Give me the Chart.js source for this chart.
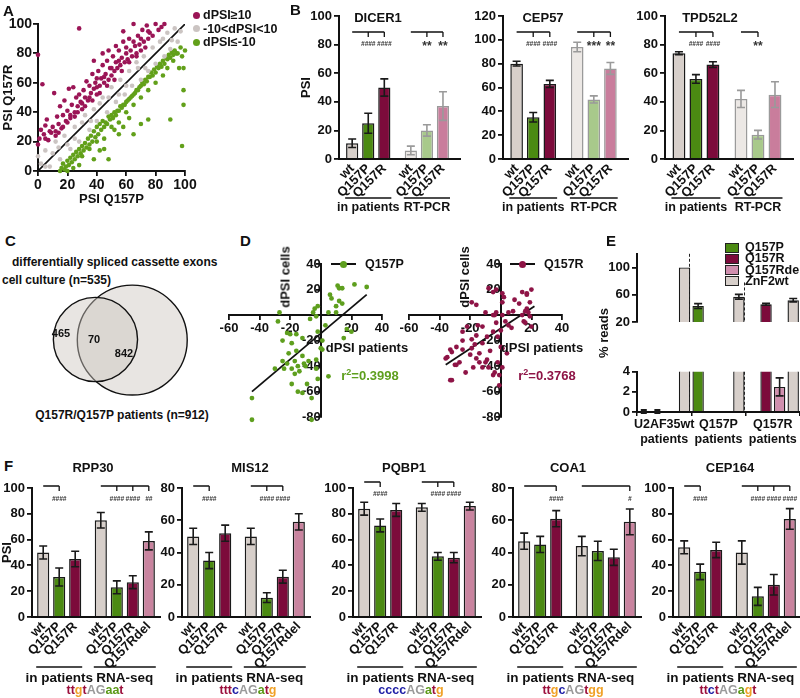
<!DOCTYPE html>
<html>
<head>
<meta charset="utf-8">
<title>U2AF35 Q157 splicing</title>
<script src="https://cdn.jsdelivr.net/npm/chart.js@4.4.1/dist/chart.umd.min.js"></script>
<style>
  body { margin: 0; width: 800px; height: 698px; position: relative; overflow: hidden; background: #fff;
         font-family: "Liberation Sans", Arial, sans-serif; font-weight: bold; color: #111; }
  canvas { position: absolute; }
  .t { position: absolute; white-space: nowrap; line-height: 1; }
</style>
</head>
<body>
<script>
// ---------- data ----------
// A: PSI Q157P (x) vs PSI Q157R (y)
const aUp = [[0,79],[3,59],[0,18],[1,22],[2,28],[4,25],[5,31],[6,35],[7,21],[8,27],[10,30],[11,53],[12,24],[13,37],[14,32],[15,44],[16,29],[17,38],[18,48],[19,34],[20,41],[21,56],[22,36],[23,45],[24,57],[25,40],[26,50],[27,44],[28,97],[28,52],[29,47],[30,42],[31,55],[32,50],[33,61],[34,48],[35,58],[36,53],[37,66],[38,56],[39,60],[40,52],[41,68],[42,58],[43,63],[44,72],[45,60],[46,66],[47,75],[48,62],[49,70],[50,65],[51,78],[52,68],[53,74],[54,70],[55,82],[56,72],[57,77],[58,88],[59,74],[60,80],[61,76],[62,90],[63,82],[64,78],[65,100],[66,85],[67,80],[68,92],[69,86],[70,82],[71,96],[72,88],[73,84],[74,99],[75,90],[76,94],[78,92],[80,100],[82,96],[84,98],[86,100],[5,22],[9,26],[14,26],[20,33],[25,37],[30,46],[35,50],[40,57],[45,64],[50,70],[55,75],[60,84],[65,88],[70,90],[75,95],[62,74],[67,78],[57,68],[52,62],[47,58],[42,53],[37,48],[32,44],[27,40],[22,38],[17,30],[12,27],[48,82],[53,85],[58,95],[44,80],[38,75],[40,63]];
const aMid = [[0,10],[2,5],[5,14],[8,3],[12,20],[15,8],[18,24],[22,15],[25,30],[28,20],[32,38],[35,28],[38,42],[40,34],[44,50],[47,40],[50,57],[53,47],[56,62],[59,52],[62,68],[64,58],[67,74],[70,62],[72,78],[75,68],[78,84],[80,73],[83,88],[86,78],[88,94],[90,83],[93,97],[95,88],[97,95],[30,33],[42,46],[55,52],[68,70],[20,18],[10,12],[85,90],[60,58],[48,50],[36,34],[25,22],[14,16],[5,3],[73,70],[91,89]];
const aDown = [[15,0],[16,2],[17,5],[18,1],[19,3],[20,7],[21,4],[22,9],[23,6],[24,11],[25,8],[26,13],[27,10],[28,15],[29,12],[30,17],[31,14],[32,19],[33,16],[34,22],[35,18],[36,24],[37,20],[38,27],[39,23],[40,30],[41,25],[42,32],[43,28],[44,34],[45,30],[45,15],[46,33],[47,32],[48,8],[48,37],[49,35],[50,38],[51,36],[52,40],[53,38],[54,41],[55,25],[55,41],[56,44],[57,43],[58,45],[59,45],[60,47],[61,48],[62,49],[63,50],[64,51],[65,25],[65,52],[66,53],[67,55],[68,55],[69,57],[70,32],[70,58],[71,60],[72,59],[73,62],[74,61],[75,35],[75,64],[76,64],[77,67],[78,65],[79,69],[80,67],[81,71],[82,70],[83,73],[84,71],[85,75],[86,73],[87,77],[88,76],[89,79],[90,35],[90,77],[91,81],[92,79],[93,82],[94,80],[95,80],[96,70],[97,84],[98,17],[98,78],[99,45],[99,55],[99,70],[100,82],[30,10],[35,15],[40,20],[50,30],[60,40],[70,50],[80,60],[85,65],[75,55],[65,45],[55,33],[45,22],[88,70],[92,75],[62,36],[58,30],[52,28],[42,14],[38,8],[28,4],[24,2],[20,0]];
const aDiag = [[0,0],[100,100]];
const aLegend = ['dPSI≥10', '-10&lt;dPSI&lt;10', 'dPSI≤-10'];

// B: RT-PCR validation
const bLabels = ['wt', 'Q157P', 'Q157R', 'wt', 'Q157P', 'Q157R'];
const bGenes = ['DICER1', 'CEP57', 'TPD52L2'];
const dicer1Psi = [11, 25, 50, 6, 20, 37];
const dicer1Err = [3, 7, 6, 3, 4, 10];
const cep57Psi = [80, 35, 63, 94, 50, 76];
const cep57Err = [2, 4, 3, 4, 3, 5];
const tpd52l2Psi = [74, 56, 66, 42, 17, 45];
const tpd52l2Err = [1, 3, 2, 6, 3, 9];
const dicer1Sig = [{ from: 0, to: 2, marks: [1, 2], texts: ['####', '####'] }, { from: 3, to: 5, marks: [4, 5], texts: ['**', '**'] }];
const cep57Sig = [{ from: 0, to: 2, marks: [1, 2], texts: ['####', '####'] }, { from: 3, to: 5, marks: [4, 5], texts: ['***', '**'] }];
const tpd52l2Sig = [{ from: 0, to: 2, marks: [1, 2], texts: ['####', '####'] }, { from: 3, to: 4, marks: [4], texts: ['**'] }];

// C: Venn counts
const vennCounts = [535, 912];
const vennOnly = ['465', '70', '842'];

// D: dPSI patients (x) vs dPSI cells (y)
const dQ157P = [[22,24],[30,22],[11,23],[14,21],[6,16],[12,11],[14,9],[10,2],[5,2],[-4,5],[-2,7],[-5,2],[-3,-1],[-27,2],[-28,-5],[-22,-14],[-16,-15],[-19,-22],[-12,-18],[-2,-13],[1,-20],[1,-27],[17,-11],[20,-13],[15,-18],[-16,-28],[-12,-32],[-17,-36],[-10,-40],[-15,-40],[-19,-42],[-8,-36],[-3,-35],[-3,-42],[-24,-42],[-25,-36],[-30,-42],[-19,-54],[-15,-60],[-2,-50],[5,-48],[-20,-15],[-25,-20],[-22,-38],[-17,-46],[-45,-65],[-6,-65],[-12,-61],[-9,-54],[0,-26],[12,21],[7,13],[10,7],[-45,-82],[-6,-82],[-14,-44],[-11,-38],[-21,-30],[-7,-3],[3,-8]];
const dQ157PFit = [[-45,-60],[30,16]];
const dQ157R = [[-3,20],[1,17],[1,10],[-19,10],[-16,8],[-5,0],[-3,2],[1,0],[5,2],[8,3],[12,9],[16,3],[17,17],[20,20],[14,18],[15,-5],[19,-1],[3,-5],[-3,-6],[0,-12],[-12,-9],[-16,-16],[-19,-19],[-25,-13],[-17,-23],[-9,-17],[0,-25],[1,-26],[-2,-37],[-5,-47],[-9,-35],[-14,-37],[-16,-34],[-12,-41],[-18,-41],[-20,-31],[-25,-27],[-29,-25],[-33,-27],[-35,-33],[-30,-39],[-33,-51],[-27,-37],[-36,-34],[-32,-29],[-29,-39],[-32,-51],[-25,-20],[-19,-26],[-22,-9],[-15,-8],[-8,21],[-5,18],[-10,2],[-4,0],[-5,-13],[-2,-17],[1,-41],[-4,-45],[-1,-47],[-8,-41],[-10,-37],[-12,-22],[5,-8],[17,16],[19,10],[17,5],[14,0],[18,2],[16,-6],[20,-9],[2,14],[9,12],[-7,-28],[-14,-30],[7,-10],[-23,-45],[4,-30],[-1,-55]];
const dQ157RFit = [[-36,-39],[22,7]];
const dR2 = ['0.3998', '0.3768'];

// E: % reads
const eGroups = [['U2AF35wt', 'patients'], ['Q157P', 'patients'], ['Q157R', 'patients']];
const eSeries = ['Q157P', 'Q157R', 'Q157Rdel', 'ZnF2wt'];
const eQ157P = [0, 43.5, 0];
const eQ157R = [0, null, 46];
const eQ157Rdel = [null, null, 2.5];
const eZnF2wt = [100, 57, 52];
const eQ157PErr = [0, 3.5, null];
const eQ157RErr = [0, null, 1.5];
const eQ157RdelErr = [null, null, 0.9];
const eZnF2wtErr = [null, 3.5, 2.5];

// F: RNA-seq validation
const fLabels = ['wt', 'Q157P', 'Q157R', 'wt', 'Q157P', 'Q157R', 'Q157Rdel'];
const fGenes = ['RPP30', 'MIS12', 'PQBP1', 'COA1', 'CEP164'];
const rpp30Psi = [50, 31, 45, 75, 23, 27, 59];
const rpp30Err = [5, 7, 6, 6, 5, 5, 7];
const mis12Psi = [50, 35, 52, 50, 12, 25, 59];
const mis12Err = [5, 5, 5, 5, 3, 4, 5];
const pqbp1Psi = [84, 71, 83, 85, 47, 46, 86];
const pqbp1Err = [5, 5, 5, 3, 3, 4, 3];
const coa1Psi = [47, 45, 61, 44, 41, 37, 59];
const coa1Err = [5, 5, 5, 6, 6, 5, 8];
const cep164Psi = [54, 35, 52, 50, 16, 25, 76];
const cep164Err = [5, 6, 6, 9, 7, 8, 8];
const rpp30Sig = [{ from: 0, to: 1, marks: [1], texts: ['####'] }, { from: 3, to: 6, marks: [4, 5, 6], texts: ['####', '####', '##'] }];
const mis12Sig = [{ from: 0, to: 1, marks: [1], texts: ['####'] }, { from: 3, to: 5, marks: [4, 5], texts: ['####', '####'] }];
const pqbp1Sig = [{ from: 0, to: 1, marks: [1], texts: ['####'] }, { from: 3, to: 5, marks: [4, 5], texts: ['####', '####'] }];
const coa1Sig = [{ from: 0, to: 2, marks: [2], texts: ['####'] }, { from: 3, to: 6, marks: [6], texts: ['#'] }];
const cep164Sig = [{ from: 0, to: 1, marks: [1], texts: ['####'] }, { from: 3, to: 6, marks: [4, 5, 6], texts: ['####', '####', '####'] }];
const fSeqs = ['ttgtAGaat', 'tttcAGatg', 'ccccAGatg', 'ttgcAGtgg', 'ttctAGagt'];

// ---------- style ----------
const FONT = '"Liberation Sans", Arial, Helvetica, sans-serif';
Chart.defaults.font.family = FONT;
Chart.defaults.font.weight = 'bold';
Chart.defaults.font.size = 12;
Chart.defaults.color = '#111';
Chart.defaults.animation = false;
Chart.defaults.responsive = false;
Chart.defaults.devicePixelRatio = 1;
Chart.defaults.plugins.legend.display = false;
Chart.defaults.plugins.tooltip.enabled = false;

const C_WT = '#d7cfca', C_P = '#4b8a12', C_R = '#7c0b3b', C_DEL = '#c9849f';
const C_WT_L = '#ece8e5', C_P_L = '#a8c98b', C_R_L = '#c97d9c';
const C_EDGE = '#1a1a1a', C_EDGE_L = '#9a9a9a';
const PT_UP = '#9b1556', PT_MID = '#cbc4c2', PT_DOWN = '#62a01a';
const D_GREEN = '#5e9f1e', D_RED = '#8e1446';
const NT = { a: '#5b9a17', c: '#1d1da6', g: '#f0a126', t: '#9b0f3c', A: '#9a9a9a', G: '#9a9a9a' };

const axisGrid = len => ({ display: true, drawOnChartArea: false, drawTicks: true, tickLength: len, color: '#111', lineWidth: 1.8 });
const axisBorder = { display: true, color: '#111', width: 2 };

// ---------- helpers ----------
function addCanvas(left, top, w, h) {
    const c = document.createElement('canvas');
    c.width = w; c.height = h;
    c.style.left = left + 'px'; c.style.top = top + 'px';
    c.style.width = w + 'px'; c.style.height = h + 'px';
    document.body.appendChild(c);
    return c;
}

function txt(html, x, y, size, opt = {}) {
    const d = document.createElement('div');
    d.className = 't';
    d.innerHTML = html;
    d.style.left = x + 'px';
    d.style.top = y + 'px';
    d.style.fontSize = size + 'px';
    if (opt.color) d.style.color = opt.color;
    const ax = opt.align === 'left' ? '0' : '-50%';
    d.style.transform = `translate(${ax},-50%)` + (opt.rotate ? ` rotate(${opt.rotate}deg)` : '');
    document.body.appendChild(d);
    return d;
}

function box(x, y, w, h, css) {
    const d = document.createElement('div');
    d.style.cssText = `position:absolute;left:${x}px;top:${y}px;width:${w}px;height:${h}px;` + css;
    document.body.appendChild(d);
}

// error bars, significance brackets and group underlines
const barExtras = {
    id: 'barExtras',
    afterDatasetsDraw(chart, args, o) {
        const ctx = chart.ctx, ys = chart.scales.y, area = chart.chartArea;
        ctx.save();
        ctx.beginPath();
        ctx.rect(area.left - 10, area.top - 10, area.width + 20, area.height + 15);
        ctx.clip();
        chart.data.datasets.forEach((ds, di) => {
            const errs = o.errors && o.errors[di];
            if (!errs) return;
            const meta = chart.getDatasetMeta(di);
            meta.data.forEach((bar, i) => {
                const e = errs[i];
                if (e === null || e === undefined) return;
                const raw = ds.data[i];
                const v = raw !== null && typeof raw === 'object' ? raw.y : raw;
                if (v === null || v === undefined) return;
                const col = (o.errColors && o.errColors[di] && o.errColors[di][i]) || C_EDGE;
                ctx.strokeStyle = col; ctx.fillStyle = col; ctx.lineWidth = 1.6;
                if (e === 0) {
                    const py = ys.getPixelForValue(v);
                    ctx.fillRect(bar.x - 3, py - 3, 6, 5);
                    return;
                }
                const top = ys.getPixelForValue(v + e), bot = ys.getPixelForValue(v - e);
                const cw = o.capWidth || 4;
                ctx.beginPath();
                ctx.moveTo(bar.x, top); ctx.lineTo(bar.x, bot);
                ctx.moveTo(bar.x - cw, top); ctx.lineTo(bar.x + cw, top);
                ctx.moveTo(bar.x - cw, bot); ctx.lineTo(bar.x + cw, bot);
                ctx.stroke();
            });
        });
        ctx.restore();

        const meta0 = chart.getDatasetMeta(0);
        ctx.save();
        (o.brackets || []).forEach(b => {
            const yb = area.top + o.bracketDy;
            ctx.strokeStyle = '#111'; ctx.lineWidth = 1.3;
            ctx.beginPath();
            ctx.moveTo(meta0.data[b.from].x, yb); ctx.lineTo(meta0.data[b.to].x, yb);
            b.marks.forEach(m => { ctx.moveTo(meta0.data[m].x, yb); ctx.lineTo(meta0.data[m].x, yb + 5); });
            ctx.stroke();
            b.marks.forEach((m, k) => {
                const s = b.texts[k];
                const hash = s[0] === '#';
                ctx.font = hash ? `italic bold 6.5px ${FONT}` : `bold 12px ${FONT}`;
                ctx.fillStyle = '#333'; ctx.textAlign = 'center'; ctx.textBaseline = 'middle';
                ctx.fillText(s, meta0.data[m].x, area.top + o.textDy + (hash ? 0 : 3));
            });
        });
        (o.groups || []).forEach(g => {
            const slot = meta0.data[1].x - meta0.data[0].x;
            const x1 = meta0.data[g.from].x - slot / 2 + 1, x2 = meta0.data[g.to].x + slot / 2 - 1;
            const yl = area.bottom + o.groupLineDy;
            ctx.strokeStyle = '#111'; ctx.lineWidth = 1.3;
            ctx.beginPath(); ctx.moveTo(x1, yl); ctx.lineTo(x2, yl); ctx.stroke();
            ctx.font = `bold ${o.groupFont}px ${FONT}`;
            ctx.fillStyle = '#111'; ctx.textAlign = 'center'; ctx.textBaseline = 'middle';
            ctx.fillText(g.text, (x1 + x2) / 2, area.bottom + o.groupTextDy);
        });
        ctx.restore();
    }
};

// dashed separators for panel E
const eDividers = {
    id: 'eDividers',
    afterDatasetsDraw(chart, args, o) {
        const ctx = chart.ctx, xs = chart.scales.x, ys = chart.scales.y, area = chart.chartArea;
        ctx.save();
        ctx.strokeStyle = '#222'; ctx.lineWidth = 1; ctx.setLineDash([3, 2]);
        (o.lines || []).forEach(l => {
            const px = Math.round((xs.getPixelForValue(l.after) + xs.getPixelForValue(l.after + 1)) / 2) - 1.5;
            const top = l.from != null ? Math.max(area.top, ys.getPixelForValue(l.from)) : area.top;
            ctx.beginPath(); ctx.moveTo(px, top); ctx.lineTo(px, area.bottom); ctx.stroke();
        });
        ctx.restore();
    }
};

function barPanel(p) {
    const padTop = 12, padRight = 4;
    const cv = addCanvas(p.left - p.yW, p.top - padTop, p.right - p.left + p.yW + padRight, p.bottom - p.top + padTop + p.xH);
    new Chart(cv, {
        type: 'bar',
        data: { datasets: [{
            data: p.values.map((v, i) => ({ x: p.pos[i], y: v })),
            backgroundColor: p.fills, borderColor: p.edges, borderWidth: 1.5,
            categoryPercentage: 1, barPercentage: 0.76
        }] },
        options: {
            layout: { padding: { top: padTop, right: padRight, left: 0, bottom: 0 } },
            plugins: { barExtras: {
                errors: [p.errors], errColors: [p.edges], brackets: p.brackets,
                bracketDy: p.bracketDy, textDy: p.textDy, groups: p.groups,
                groupLineDy: p.groupLineDy, groupTextDy: p.groupTextDy, groupFont: p.groupFont
            } },
            scales: {
                x: { type: 'linear', min: p.xMin, max: p.xMax, offset: false,
                     afterBuildTicks: s => { s.ticks = p.pos.map(v => ({ value: v })); },
                     ticks: { callback: (v, i) => p.labels[i], minRotation: 45, maxRotation: 45, autoSkip: false, font: { size: p.tickSize }, padding: 2 },
                     grid: { display: false, drawTicks: false, offset: false }, border: axisBorder,
                     afterFit: s => { s.height = p.xH; } },
                y: { min: 0, max: p.max, ticks: { stepSize: 20, font: { size: p.tickSize }, padding: 2 },
                     grid: axisGrid(5), border: axisBorder,
                     title: { display: !!p.yTitle, text: p.yTitle, font: { size: 13 }, padding: 0 },
                     afterFit: s => { s.width = p.yW; } }
            }
        },
        plugins: [barExtras]
    });
}

// ---------- panel A ----------
const aCanvas = addCanvas(0, 0, 200, 210);
new Chart(aCanvas, {
    type: 'scatter',
    data: { datasets: [
        { data: aMid, backgroundColor: PT_MID, pointRadius: 2.3, borderWidth: 0, clip: false },
        { data: aUp, backgroundColor: PT_UP, pointRadius: 2.3, borderWidth: 0, clip: false },
        { data: aDown, backgroundColor: PT_DOWN, pointRadius: 2.3, borderWidth: 0, clip: false },
        { data: aDiag, showLine: true, borderColor: '#111', borderWidth: 1.6, pointRadius: 0 }
    ] },
    options: {
        layout: { padding: { top: 24, right: 15, left: 0, bottom: 0 } },
        scales: {
            x: { min: 0, max: 100, ticks: { stepSize: 20, font: { size: 14 }, padding: 1 }, grid: axisGrid(5), border: axisBorder,
                 title: { display: true, text: 'PSI Q157P', font: { size: 13 }, padding: { top: 0, bottom: 3 } },
                 afterFit: s => { s.height = 39; } },
            y: { min: 0, max: 100, ticks: { stepSize: 20, font: { size: 14 }, padding: 1 }, grid: axisGrid(5), border: axisBorder,
                 title: { display: true, text: 'PSI Q157R', font: { size: 13 }, padding: 1 },
                 afterFit: s => { s.width = 38; } }
        }
    }
});
txt('A', 3, 10, 15, { align: 'left' });
[PT_UP, PT_MID, PT_DOWN].forEach((c, i) => {
    const y = 15 + i * 13.6;
    box(192.5, y - 3.5, 7, 7, `border-radius:50%;background:${c};`);
    txt(aLegend[i], 203, y, 12.5, { align: 'left' });
});

// ---------- panel B ----------
txt('B', 290, 9, 15, { align: 'left' });
const bPos = [1, 2, 3, 4.65, 5.65, 6.65];
const bFills = [C_WT, C_P, C_R, C_WT_L, C_P_L, C_R_L];
const bEdges = [C_EDGE, C_EDGE, C_EDGE, C_EDGE_L, C_EDGE_L, C_EDGE_L];
const bGroups = [{ from: 0, to: 2, text: 'in patients' }, { from: 3, to: 5, text: 'RT-PCR' }];
[
    { left: 339, right: 460, max: 100, values: dicer1Psi, errors: dicer1Err, brackets: dicer1Sig, yTitle: 'PSI', yW: 40, title: 378 },
    { left: 503, right: 628, max: 120, values: cep57Psi, errors: cep57Err, brackets: cep57Sig, yW: 36, title: 543 },
    { left: 665, right: 793, max: 100, values: tpd52l2Psi, errors: tpd52l2Err, brackets: tpd52l2Sig, yW: 36, title: 710 }
].forEach((p, k) => {
    barPanel(Object.assign(p, {
        top: 16, bottom: 159, xH: 56, pos: bPos, xMin: 0.18, xMax: 7.71, labels: bLabels,
        fills: bFills, edges: bEdges, groups: bGroups, tickSize: 13,
        bracketDy: 16, textDy: 28, groupLineDy: 39, groupTextDy: 49, groupFont: 12.5
    }));
    txt(bGenes[k], p.title, 17, 13);
});

// ---------- panel C ----------
txt('C', 5, 240, 15, { align: 'left' });
txt('differentially spliced cassette exons', 12, 262, 12, { align: 'left' });
txt('cell culture (n=535)', 2, 280, 12, { align: 'left' });
const vennCv = addCanvas(0, 280, 260, 120);
const vennCx = [69, 134], vennCy = [332, 341];
new Chart(vennCv, {
    type: 'bubble',
    data: { datasets: vennCounts.map((n, i) => ({
        data: [{ x: vennCx[i], y: vennCy[i], r: 1.82 * Math.sqrt(n) }],
        backgroundColor: 'rgba(204,197,191,0.45)', borderColor: '#111', borderWidth: 1.4, clip: false
    })) },
    options: {
        layout: { padding: 0 },
        scales: { x: { display: false, min: 0, max: 260 }, y: { display: false, min: 280, max: 400, reverse: true } }
    }
});
txt(vennOnly[0], 61, 333, 11);
txt(vennOnly[1], 94, 339, 11);
txt(vennOnly[2], 124, 353, 11);
txt('Q157R/Q157P patients (n=912)', 122, 415, 12);

// ---------- panel D ----------
txt('D', 240, 240, 15, { align: 'left' });
function dPanel(left, points, fit, color) {
    const cv = addCanvas(left - 12, 255, 175, 171);
    new Chart(cv, {
        type: 'scatter',
        data: { datasets: [
            { data: points, backgroundColor: color, pointRadius: 2.4, borderWidth: 0, clip: false },
            { data: fit, showLine: true, borderColor: '#111', borderWidth: 1.8, pointRadius: 0 }
        ] },
        options: {
            layout: { padding: { left: 12, right: 10, top: 9, bottom: 8 } },
            scales: {
                x: { type: 'linear', min: -60, max: 40, position: { y: 0 },
                     ticks: { stepSize: 20, callback: v => (v === 0 ? '' : v), font: { size: 13 }, padding: 2 },
                     grid: axisGrid(4), border: axisBorder },
                y: { type: 'linear', min: -80, max: 40, position: { x: 0 },
                     ticks: { stepSize: 20, callback: v => (v === 0 ? '' : v), font: { size: 13 }, padding: 1 },
                     grid: axisGrid(4), border: axisBorder }
            }
        }
    });
}
dPanel(229, dQ157P, dQ157PFit, D_GREEN);
dPanel(409, dQ157R, dQ157RFit, D_RED);
[[285, 367, 370, D_GREEN, 331, 'Q157P'], [464, 542, 547, D_RED, 510, 'Q157R']].forEach(([cx, px, rx, col, lx, name], i) => {
    txt('dPSI cells', cx, 277, 13, { rotate: -90 });
    txt('dPSI patients', px, 347, 13);
    txt(`r<sup style="font-size:9px">2</sup>=${dR2[i]}`, rx, 375, 13, { color: col });
    box(lx, 263, 25, 2, 'background:#111;');
    box(lx + 9, 260.5, 7, 7, `border-radius:50%;background:${col};`);
    txt(name, lx + 34, 264, 12.5, { align: 'left' });
});

// ---------- panel E ----------
txt('E', 606, 240, 15, { align: 'left' });
txt('% reads', 603, 333, 13, { rotate: -90 });
const eColors = [C_P, C_R, '#d08fae', C_WT];
const eValues = [eQ157P, eQ157R, eQ157Rdel, eZnF2wt];
const eErrs = [eQ157PErr, eQ157RErr, eQ157RdelErr, eZnF2wtErr];
eSeries.forEach((s, i) => {
    const y = 247 + i * 11.3;
    box(725, y - 4.5, 12, 8, `background:${eColors[i]};border:1px solid #222;`);
    txt(s, 745, y, 12.5, { align: 'left' });
});
function eChart(top, height, yMin, yMax, step, padTop, padBottom, showX, from2) {
    const cv = addCanvas(597, top, 203, height);
    new Chart(cv, {
        type: 'bar',
        data: { labels: eGroups, datasets: eValues.map((vals, i) => ({
            label: eSeries[i], data: vals, backgroundColor: eColors[i], borderColor: C_EDGE, borderWidth: 1.4,
            categoryPercentage: 1, barPercentage: 0.84
        })) },
        options: {
            layout: { padding: { top: padTop, bottom: padBottom, left: 0, right: 0 } },
            plugins: {
                barExtras: { errors: eErrs, capWidth: 4 },
                eDividers: { lines: [{ after: 0, from: null }, { after: 1, from: from2 }] }
            },
            scales: {
                x: { display: showX, offset: true,
                     ticks: { font: { size: 12.5 }, padding: 1, autoSkip: false, maxRotation: 0, minRotation: 0 },
                     grid: { display: true, drawOnChartArea: false, drawTicks: true, tickLength: 4, offset: true, color: '#111', lineWidth: 1.5 },
                     border: axisBorder, afterFit: s => { s.height = 34; } },
                y: { min: yMin, max: yMax, ticks: { stepSize: step, font: { size: 13 }, padding: 2 },
                     afterBuildTicks: s => { s.ticks = s.ticks.filter(t => t.value <= (yMax === 120 ? 100 : yMax)); },
                     grid: axisGrid(5), border: axisBorder, afterFit: s => { s.width = 40; } }
            }
        },
        plugins: [barExtras, eDividers]
    });
}
eChart(244, 120, 20, 120, 20, 6, 8, false, 78);
eChart(362, 84, 0, 4, 1, 6, 0, true, 78);

// ---------- panel F ----------
txt('F', 4, 465, 15, { align: 'left' });
const fPos = [1, 2, 3, 4.6, 5.6, 6.6, 7.6];
const fFills = [C_WT, C_P, C_R, C_WT, C_P, C_R, C_DEL];
const fEdges = fFills.map(() => C_EDGE);
const fGroups = [{ from: 0, to: 2, text: 'in patients' }, { from: 3, to: 6, text: 'RNA-seq' }];
[
    { left: 32, max: 100, values: rpp30Psi, errors: rpp30Err, brackets: rpp30Sig, yTitle: 'PSI', yW: 32, title: 93, bracketDy: -2, textDy: 11 },
    { left: 182, max: 80, values: mis12Psi, errors: mis12Err, brackets: mis12Sig, yW: 36, title: 250, bracketDy: -2, textDy: 11 },
    { left: 353, max: 100, values: pqbp1Psi, errors: pqbp1Err, brackets: pqbp1Sig, yW: 36, title: 404, bracketDy: -6, textDy: 6 },
    { left: 513, max: 80, values: coa1Psi, errors: coa1Err, brackets: coa1Sig, yW: 36, title: 568, bracketDy: -2, textDy: 11 },
    { left: 673, max: 100, values: cep164Psi, errors: cep164Err, brackets: cep164Sig, yW: 36, title: 730, bracketDy: -2, textDy: 11 }
].forEach((p, k) => {
    barPanel(Object.assign(p, {
        right: p.left + 128, top: 488, bottom: 617, xH: 70, pos: fPos, xMin: 0.3, xMax: 8.3, labels: fLabels,
        fills: fFills, edges: fEdges, groups: fGroups, tickSize: 13,
        groupLineDy: 50, groupTextDy: 61, groupFont: 13.5
    }));
    txt(fGenes[k], p.title, 467, 13);
    const seq = fSeqs[k].split('').map(ch => `<span style="color:${NT[ch]}">${ch}</span>`).join('');
    txt(seq, [95, 248, 411, 573, 728][k], 690, 12.5);
});
</script>
</body>
</html>
